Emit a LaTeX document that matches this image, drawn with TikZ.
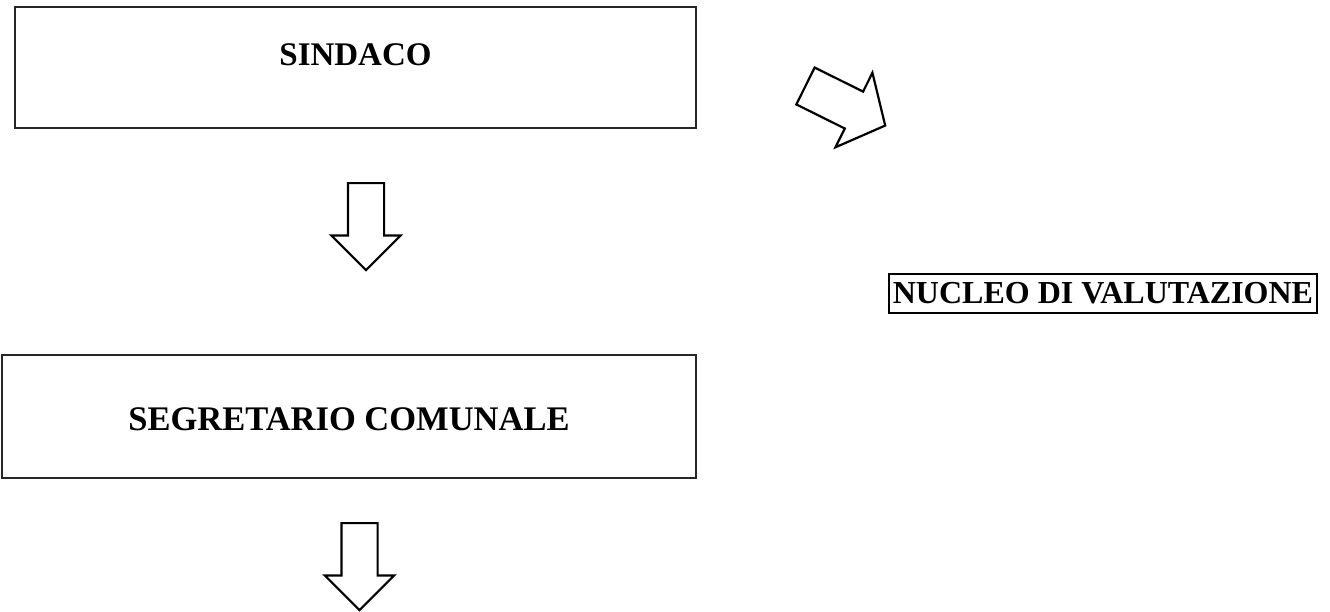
\documentclass[tikz,border=0pt]{standalone}
\usepackage{fontspec}
\setmainfont{Liberation Serif}
\usetikzlibrary{shapes.arrows}

\begin{document}
\begin{tikzpicture}[
    x=1pt, y=-1pt,
    box/.style={
        draw=black!85,
        line width=1.7pt,
        inner sep=0pt,
        font=\fontsize{33}{40}\selectfont\bfseries
    },
    tag/.style={
        draw=black,
        line width=2.4pt,
        inner sep=0pt,
        font=\fontsize{32}{38}\selectfont\bfseries
    },
    bigarrow/.style={
        draw=black,
        line width=2.2pt,
        single arrow,
        single arrow tip angle=90,
        single arrow head extend=16.5pt,
        inner xsep=0pt,
        inner ysep=17pt,
        minimum height=87pt,
        anchor=tail
    }
]
\useasboundingbox (0,0) rectangle (1330,611);

\node[box, minimum width=681pt, minimum height=121pt,
      text height=20pt, text depth=25pt] (sindaco) at (355.5,67.5) {SINDACO};
\node[box, minimum width=694pt, minimum height=123pt,
      font=\fontsize{34.5}{40}\selectfont\bfseries,
      text height=27pt, text depth=0pt] (segretario) at (349,416.5) {SEGRETARIO COMUNALE};
\node[tag, minimum width=428pt, minimum height=39pt,
      text height=19pt, text depth=0pt] (nucleo) at (1103,293.5) {NUCLEO DI VALUTAZIONE};

% block arrows
\node[bigarrow, rotate=-90] (down1) at (366,182) {};
\node[bigarrow, rotate=-90] (down2) at (359.5,522) {};
\node[bigarrow, rotate=-26.4, single arrow tip angle=100,
      single arrow head extend=21pt, inner ysep=19.5pt,
      minimum height=89pt] (diag) at (804.5,85.5) {};

\end{tikzpicture}
\end{document}
